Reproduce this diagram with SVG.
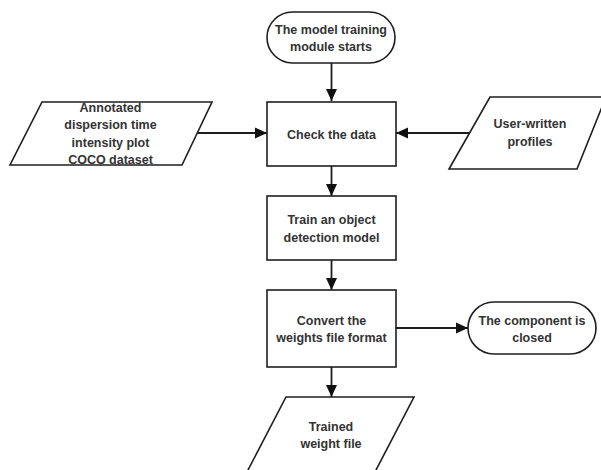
<svg xmlns="http://www.w3.org/2000/svg" width="601" height="470" viewBox="0 0 601 470">
<style>
.shape{fill:#fff;stroke:#1e1e1e;stroke-width:1.6}
.lbl{font-family:"Liberation Sans",Arial,sans-serif;font-weight:bold;font-size:12.5px;fill:#333;text-anchor:middle}
.conn{stroke:#1e1e1e;stroke-width:1.8;fill:none;marker-end:url(#ah)}
</style>
<defs>
<marker id="ah" markerUnits="userSpaceOnUse" markerWidth="12" markerHeight="12" viewBox="0 0 12 12" refX="12" refY="6" orient="auto">
<path d="M0,0.5 L12,6 L0,11.5 Z" fill="#111"/>
</marker>
</defs>
<rect width="601" height="470" fill="#fff"/>
<g id="connectors">
<line class="conn" x1="331.5" y1="63" x2="331.5" y2="101"/>
<line class="conn" x1="197" y1="133" x2="267" y2="133"/>
<line class="conn" x1="469" y1="133" x2="396" y2="133"/>
<line class="conn" x1="331.5" y1="166" x2="331.5" y2="196"/>
<line class="conn" x1="331.5" y1="260" x2="331.5" y2="290"/>
<line class="conn" x1="396" y1="328" x2="468" y2="328"/>
<line class="conn" x1="331.5" y1="367" x2="331.5" y2="397"/>
</g>
<g id="start">
<rect class="shape" x="267" y="12" width="128" height="51" rx="25.5"/>
<text class="lbl" x="331" y="34">The model training</text>
<text class="lbl" x="331" y="51">module starts</text>
</g>
<g id="input-annotated">
<polygon class="shape" points="42,102 212,102 182,165 10,165"/>
<text class="lbl" x="110.5" y="111.5">Annotated</text>
<text class="lbl" x="110.5" y="129">dispersion time</text>
<text class="lbl" x="110.5" y="146.5">intensity plot</text>
<text class="lbl" x="110.5" y="164">COCO dataset</text>
</g>
<g id="check">
<rect class="shape" x="267" y="102" width="129" height="64"/>
<text class="lbl" x="331.5" y="138.5">Check the data</text>
</g>
<g id="input-profiles">
<polygon class="shape" points="490,97 606,97 577,169 449,169"/>
<text class="lbl" x="530" y="128">User-written</text>
<text class="lbl" x="530" y="146">profiles</text>
</g>
<g id="train">
<rect class="shape" x="267" y="196" width="129" height="64"/>
<text class="lbl" x="331.5" y="224">Train an object</text>
<text class="lbl" x="331.5" y="242">detection model</text>
</g>
<g id="convert">
<rect class="shape" x="267" y="290" width="129" height="77"/>
<text class="lbl" x="331.5" y="325">Convert the</text>
<text class="lbl" x="331.5" y="342">weights file format</text>
</g>
<g id="closed">
<rect class="shape" x="468" y="302" width="128" height="52" rx="26"/>
<text class="lbl" x="532" y="325">The component is</text>
<text class="lbl" x="532" y="342">closed</text>
</g>
<g id="output">
<polygon class="shape" points="286,397 414,397 373.4,475 245.4,475"/>
<text class="lbl" x="331" y="431">Trained</text>
<text class="lbl" x="331" y="448">weight file</text>
</g>
</svg>
